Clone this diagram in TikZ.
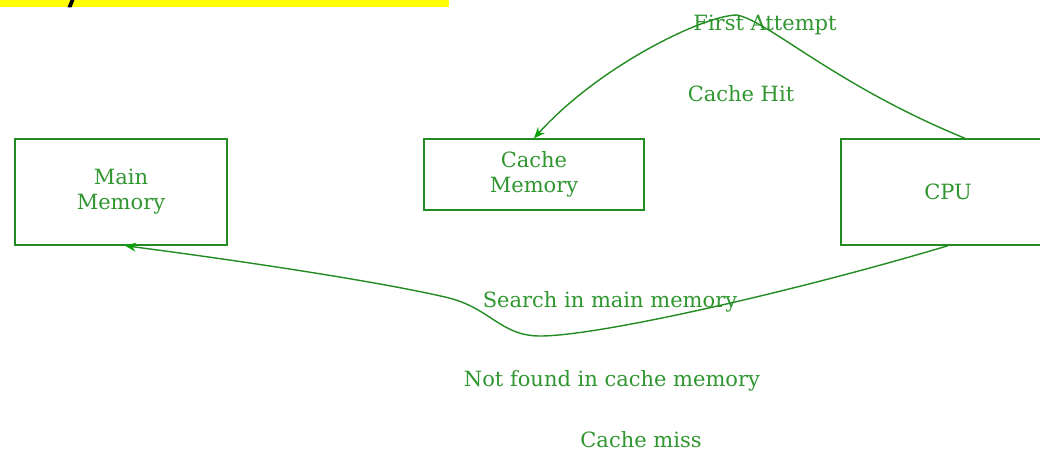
\documentclass[tikz,border=0pt]{standalone}
\usepackage{fontspec}
\setmainfont{DejaVu Serif}
\usetikzlibrary{arrows.meta}
\definecolor{linegreen}{RGB}{34,140,34}
\definecolor{tipgreen}{RGB}{10,160,10}
\definecolor{textgreen}{RGB}{48,150,48}
\definecolor{banner}{RGB}{255,255,0}
\begin{document}
\begin{tikzpicture}[x=1pt,y=-1pt,
  box/.style={draw=linegreen,line width=1.4pt,rectangle,inner sep=0pt,
    text=textgreen,align=center,font=\fontsize{21}{25}\selectfont},
  lbl/.style={text=textgreen,inner sep=0pt,font=\fontsize{21}{25}\selectfont},
  flow/.style={draw=linegreen,line width=1.4pt,
    -{Stealth[length=11pt,width=9pt,color=tipgreen]}}]
\useasboundingbox (0,0) rectangle (1040,451);
\fill[white] (0,0) rectangle (1040,451);

% banner strip along the top edge
\fill[banner] (0,0) rectangle (449,7.3);
\fill[black] (70.5,0) -- (74.5,0) -- (71.5,7.3) -- (67.5,7.3) -- cycle;

% units
\node[box,minimum width=212pt,minimum height=106pt] (main) at (121,192) {Main\\Memory};
\node[box,minimum width=220pt,minimum height=71pt] (cache) at (534,174.5) {Cache\\Memory};
\node[box,minimum width=214pt,minimum height=106pt] (cpu) at (948,192) {CPU};

% labels
\node[lbl] (first) at (765,25) {First Attempt};
\node[lbl] (hit) at (741,94) {Cache Hit};
\node[lbl] (search) at (610,302) {Search in main memory};
\node[lbl] (notfound) at (612,381) {Not found in cache memory};
\node[lbl] (miss) at (641,440) {Cache miss};

% connectors
\coordinate (hitstart) at ([xshift=17pt]cpu.north);
\coordinate (peak) at (737,15);
\coordinate (low) at (540,336);
\coordinate (bend) at (445,297);
\draw[flow] (hitstart) .. controls (835,85) and (770,22) .. (peak)
  .. controls (705,15) and (600,65) .. (cache.north);
\draw[flow] (cpu.south) .. controls (800,290) and (600,336) .. (low)
  .. controls (500,336) and (490,307) .. (bend)
  .. controls (380,282) and (250,262) .. ([xshift=4pt]main.south);
\end{tikzpicture}
\end{document}
